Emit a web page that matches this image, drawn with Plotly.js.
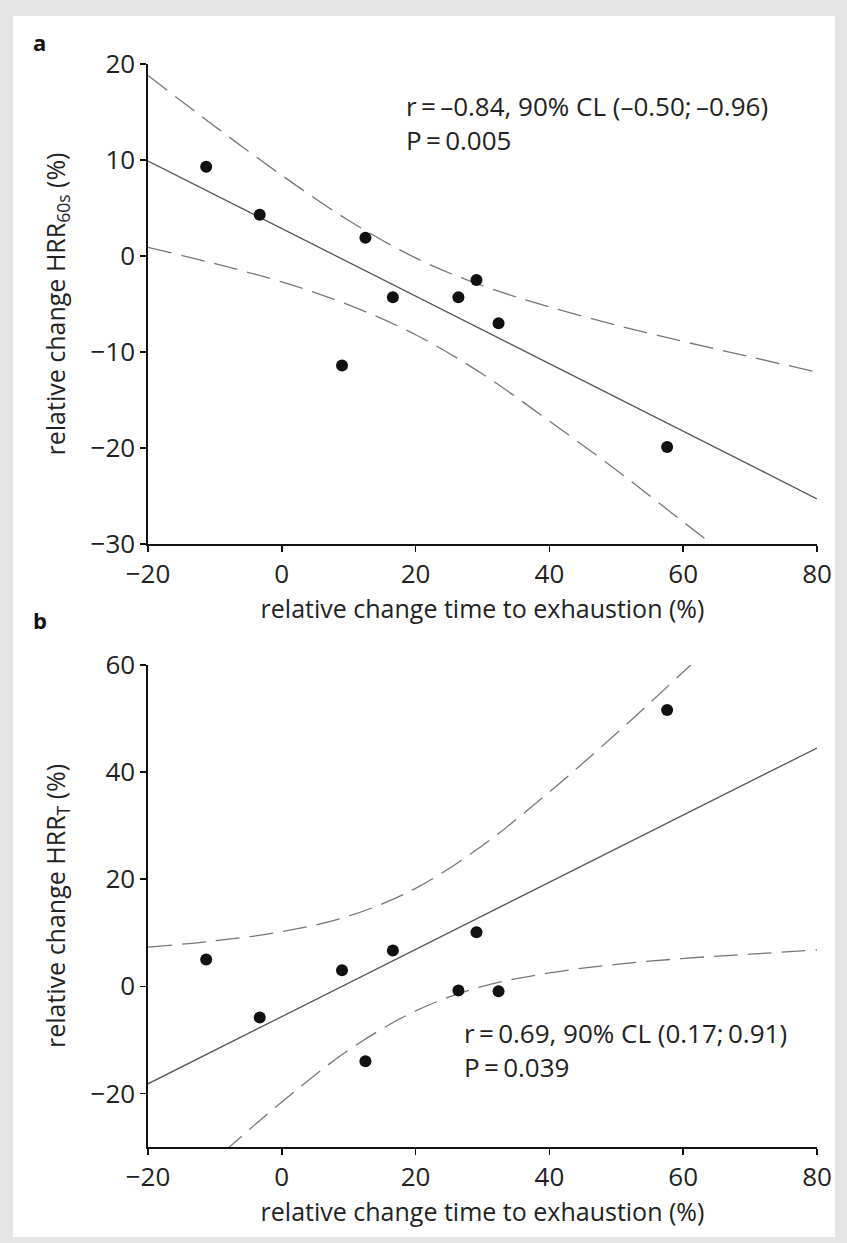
<!DOCTYPE html>
<html>
<head>
<meta charset="utf-8">
<script src="https://cdn.plot.ly/plotly-3.0.1.min.js"></script>
<style>
  html, body { margin: 0; padding: 0; background: #e5e5e6; width: 847px; height: 1243px; overflow: hidden; }
  #chart { position: absolute; left: 13px; top: 16px; width: 822px; height: 1221px; background: #fff; }
</style>
</head>
<body>
<div id="chart"></div>
<script>
// Subjects: relative change time to exhaustion (%)
const timeChange = [-11.3, -3.3, 12.5, 16.6, 26.4, 29.1, 32.4, 9.0, 57.6];
// Panel a: relative change HRR60s (%)
const hrr60Change = [9.3, 4.3, 1.9, -4.3, -4.3, -2.5, -7.0, -11.4, -19.9];
// Panel b: relative change HRRT (%)
const hrrTChange = [5.0, -5.8, -14.0, 6.7, -0.8, 10.1, -0.9, 3.0, 51.6];

// Regression lines (read at the axis ends)
const fitX = [-20, 80];
const fitA = [9.9, -25.3];
const fitB = [-18.2, 44.5];

// Confidence bands
const bandX = [-20, -10, 0, 10, 20, 30, 40, 50, 60, 70, 80];
const bandAUpper = [18.8, 13.5, 8.4, 3.7, -0.2, -3.1, -5.3, -7.2, -8.9, -10.5, -12.1];
const bandALower = [0.9, -0.8, -2.7, -5.1, -8.2, -12.3, -17.2, -22.3, -27.7, -33.1, -38.6];
const bandBUpper = [7.3, 8.5, 10.2, 13.1, 18.3, 26.3, 36.3, 47.2, 58.7, 70.4, 82.2];
const bandBLower = [-43.7, -32.4, -21.6, -11.9, -4.6, 0.0, 2.5, 4.1, 5.2, 6.0, 6.8];

const xTitle = 'relative change time to exhaustion (%)';
const yTitleA = 'relative change HRR<sub>60s</sub> (%)';
const yTitleB = 'relative change HRR<sub>T</sub> (%)';
const annA = ['r\u2009=\u2009\u20130.84, 90% CL (\u20130.50;\u2009\u20130.96)', 'P\u2009=\u20090.005'];
const annB = ['r\u2009=\u20090.69, 90% CL (0.17;\u20090.91)', 'P\u2009=\u20090.039'];

const FONT = 'Open Sans, Liberation Sans, sans-serif';
const TXT = '#222';
const fitLine = {color: '#555', width: 1.3};
const bandLine = {color: '#777', width: 1.3, dash: '24px,10px', shape: 'spline'};

const traces = [
  {x: bandX, y: bandAUpper, mode: 'lines', line: bandLine, xaxis: 'x', yaxis: 'y', hoverinfo: 'skip'},
  {x: bandX, y: bandALower, mode: 'lines', line: bandLine, xaxis: 'x', yaxis: 'y', hoverinfo: 'skip'},
  {x: fitX, y: fitA, mode: 'lines', line: fitLine, xaxis: 'x', yaxis: 'y'},
  {x: timeChange, y: hrr60Change, mode: 'markers', marker: {size: 12, color: '#111'}, xaxis: 'x', yaxis: 'y', cliponaxis: false},
  {x: bandX, y: bandBUpper, mode: 'lines', line: bandLine, xaxis: 'x2', yaxis: 'y2', hoverinfo: 'skip'},
  {x: bandX, y: bandBLower, mode: 'lines', line: bandLine, xaxis: 'x2', yaxis: 'y2', hoverinfo: 'skip'},
  {x: fitX, y: fitB, mode: 'lines', line: fitLine, xaxis: 'x2', yaxis: 'y2'},
  {x: timeChange, y: hrrTChange, mode: 'markers', marker: {size: 12, color: '#111'}, xaxis: 'x2', yaxis: 'y2', cliponaxis: false}
];

const axisCommon = {
  showline: true, linecolor: '#111', linewidth: 1.6,
  ticks: 'outside', ticklen: 6, tickwidth: 1.6, tickcolor: '#111',
  showgrid: false, zeroline: false,
  tickfont: {family: FONT, size: 26, color: TXT}
};
const titleFont = {family: FONT, size: 25, color: TXT};
const annFont = {family: FONT, size: 26, color: TXT};

const layout = {
  width: 822, height: 1221,
  margin: {l: 135, r: 18, t: 48, b: 90},
  paper_bgcolor: '#fff', plot_bgcolor: '#fff',
  showlegend: false,
  font: {family: FONT, size: 24, color: TXT},
  xaxis: Object.assign({}, axisCommon, {domain: [0, 1], anchor: 'y', range: [-20, 80], dtick: 20, tick0: 0,
    title: {text: xTitle, font: titleFont, standoff: 6}}),
  yaxis: Object.assign({}, axisCommon, {domain: [0.5568, 1], anchor: 'x', range: [-30, 20], dtick: 10, tick0: 0,
    title: {text: yTitleA, font: titleFont, standoff: 18}}),
  xaxis2: Object.assign({}, axisCommon, {domain: [0, 1], anchor: 'y2', range: [-20, 80], dtick: 20, tick0: 0,
    title: {text: xTitle, font: titleFont, standoff: 6}}),
  yaxis2: Object.assign({}, axisCommon, {domain: [0, 0.4451], anchor: 'x2', range: [-30, 60], dtick: 20, tick0: 0,
    title: {text: yTitleB, font: titleFont, standoff: 18}}),
  annotations: [
    {xref: 'x', yref: 'y', x: 18.2, y: 17.7, text: annA.join('<br>'), showarrow: false, xanchor: 'left', yanchor: 'top', align: 'left', font: annFont},
    {xref: 'x2', yref: 'y2', x: 27.0, y: -5.0, text: annB.join('<br>'), showarrow: false, xanchor: 'left', yanchor: 'top', align: 'left', font: annFont},
    {xref: 'paper', yref: 'paper', x: -0.175, y: 1.02, text: '<b>a</b>', showarrow: false, xanchor: 'left', yanchor: 'middle', font: {family: FONT, size: 22, color: '#111'}},
    {xref: 'paper', yref: 'paper', x: -0.175, y: 0.4865, text: '<b>b</b>', showarrow: false, xanchor: 'left', yanchor: 'middle', font: {family: FONT, size: 22, color: '#111'}}
  ]
};

Plotly.newPlot('chart', traces, layout, {displayModeBar: false, staticPlot: true});
</script>
</body>
</html>
